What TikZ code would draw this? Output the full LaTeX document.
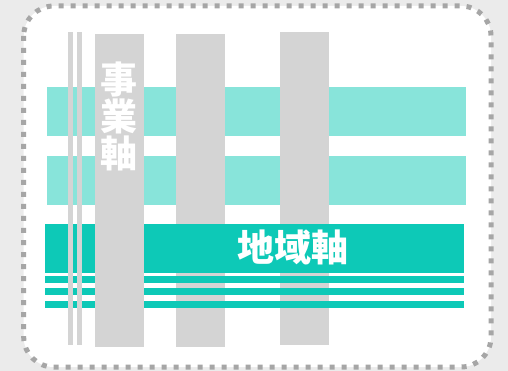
\documentclass[tikz,border=0pt]{standalone}
\usepackage{fontspec}
\newfontfamily\cjk{Noto Sans CJK JP}
\definecolor{bggray}{HTML}{EBEBEB}
\definecolor{dotgray}{HTML}{A6A6A6}
\definecolor{colgray}{HTML}{D4D4D4}
\definecolor{lteal}{HTML}{88E4DA}
\definecolor{dteal}{HTML}{0DC9B7}
\tikzset{
  colbar/.style={fill=colgray, draw=none},
  lband/.style={fill=lteal, draw=none},
  dband/.style={fill=dteal, draw=none},
  label/.style={text=white, font=\cjk\bfseries\fontsize{37}{37}\selectfont, inner sep=0pt, align=center}
}
\begin{document}
\begin{tikzpicture}[x=1pt,y=-1pt]
\useasboundingbox (0,0) rectangle (508,371);
\fill[bggray] (0,0) rectangle (508,371);
\draw[fill=white, draw=dotgray, line width=5pt, dash pattern=on 5pt off 7pt, rounded corners=30pt] (23.7,6) rectangle (491,367);
% light bands
\fill[lband] (46.5,87) rectangle (466,136);
\fill[lband] (46.5,156) rectangle (466,205);
% back columns
\fill[colbar] (176,34) rectangle (225,347);
\fill[colbar] (280,32) rectangle (329,345);
% dark band and stripes
\fill[dband] (45,224) rectangle (464,273);
\fill[dband] (45,276) rectangle (464,283);
\fill[dband] (45,288) rectangle (464,295);
\fill[dband] (45,301) rectangle (464,308);
% front columns
\fill[colbar] (68,32) rectangle (73,345);
\fill[colbar] (77,32) rectangle (82,345);
\fill[colbar] (95,34) rectangle (144,347);
% labels
\node[label] (jigyo) at (119,116.5) {事\\業\\軸};
\node[label] (chiiki) at (293,247.5) {地域軸};
\end{tikzpicture}
\end{document}
